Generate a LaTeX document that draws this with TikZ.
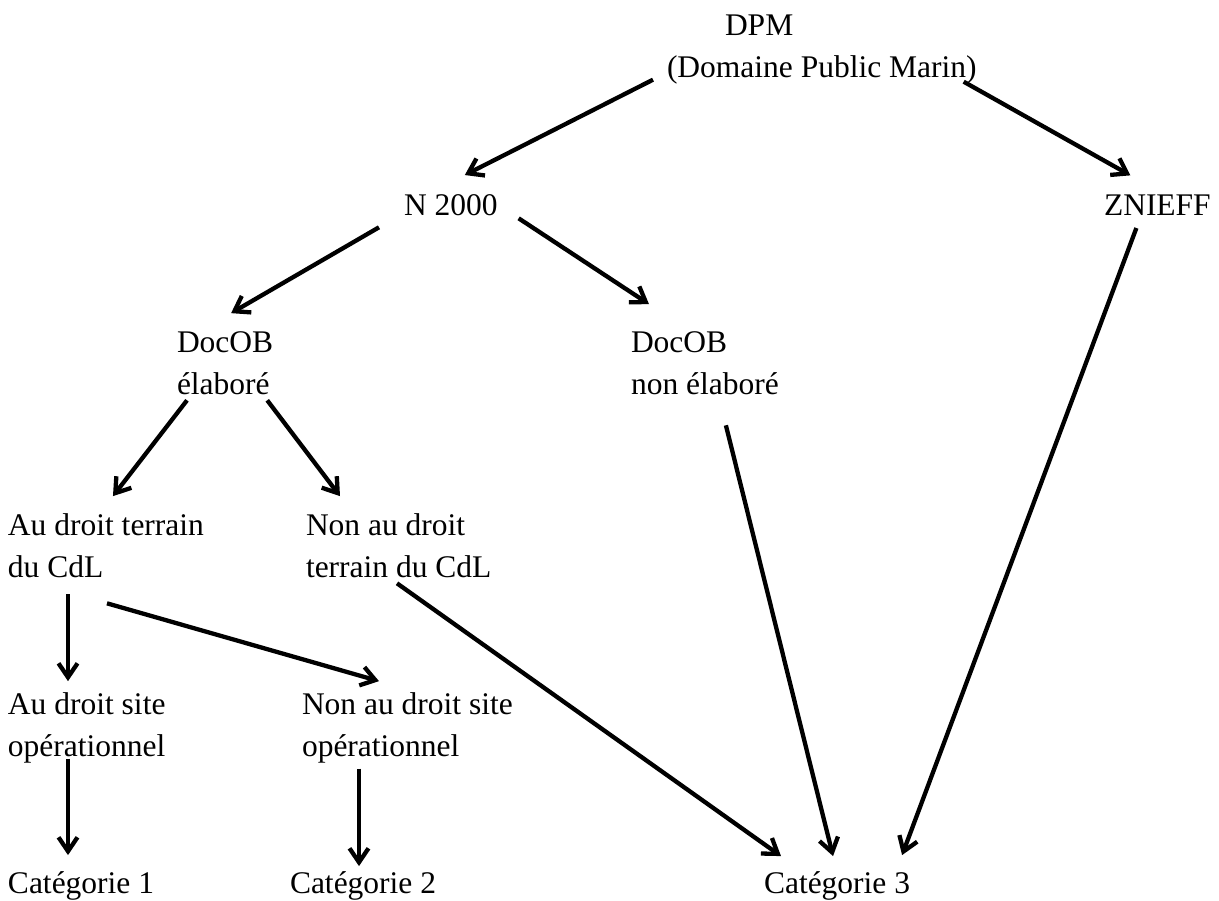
\documentclass[tikz,border=0pt]{standalone}
\usepackage{fontspec}
\setmainfont{Liberation Serif}
\usepackage{tikz}
\usetikzlibrary{arrows.meta}

\tikzset{
  lbl/.style={inner sep=0pt, outer sep=0pt, anchor=base west, align=left,
    font=\fontsize{31.5}{42}\selectfont},
  arr/.style={line width=4.3pt, -{Straight Barb[length=14pt,width=19pt]}}
}

\begin{document}
\begin{tikzpicture}[x=1pt, y=-1pt]
    \useasboundingbox (0,0) rectangle (1219,901);

    % --- Labels (left edge, baseline of last line) ---
    \node[lbl] (dpm) at (667,78) {\hspace*{58pt}DPM\\(Domaine Public Marin)};
    \node[lbl] (n2000) at (404,216) {N 2000};
    \node[lbl] (znieff) at (1104,216) {ZNIEFF};
    \node[lbl] (docA) at (177,395) {DocOB\\élaboré};
    \node[lbl] (docB) at (631,395) {DocOB\\non élaboré};
    \node[lbl] (terA) at (8,577) {Au droit terrain\\du CdL};
    \node[lbl] (terB) at (306,577) {Non au droit\\terrain du CdL};
    \node[lbl] (siteA) at (8,756) {Au droit site\\opérationnel};
    \node[lbl] (siteB) at (302,756) {Non au droit site\\opérationnel};
    \node[lbl] (cat1) at (8,893) {Catégorie 1};
    \node[lbl] (cat2) at (290,893) {Catégorie 2};
    \node[lbl] (cat3) at (764,893) {Catégorie 3};

    % --- Arrows ---
    \draw[arr] ([shift={(-14pt,5pt)}]dpm.south west) -- ([shift={(14pt,20pt)}]n2000.north);
    \draw[arr] ([shift={(-13pt,3pt)}]dpm.south east) -- ([shift={(-27pt,20pt)}]znieff.north);
    \draw[arr] ([shift={(-25pt,-11pt)}]n2000.south west) -- ([shift={(6pt,19pt)}]docA.north);
    \draw[arr] ([shift={(21pt,-2pt)}]n2000.south east) -- ([shift={(18pt,28pt)}]docB.north west);
    \draw[arr] ([shift={(10pt,-5pt)}]docA.south west) -- ([shift={(7pt,17pt)}]terA.north);
    \draw[arr] ([shift={(-6pt,-5pt)}]docA.south east) -- ([shift={(34pt,17pt)}]terB.north west);
    \draw[arr] ([shift={(21pt,-30pt)}]docB.south) -- ([shift={(-4pt,15pt)}]cat3.north);
    \draw[arr] ([shift={(-21pt,-12pt)}]znieff.south) -- ([shift={(-8pt,16pt)}]cat3.north east);
    \draw[arr] ([shift={(60pt,-17pt)}]terA.south west) -- ([shift={(60pt,11pt)}]siteA.north west);
    \draw[arr] ([shift={(99pt,-26pt)}]terA.south west) -- ([shift={(77pt,11pt)}]siteB.north west);
    \draw[arr] ([shift={(91pt,-6pt)}]terB.south west) -- ([shift={(17pt,15pt)}]cat3.north west);
    \draw[arr] ([shift={(60pt,4pt)}]siteA.south west) -- ([shift={(60pt,16pt)}]cat1.north west);
    \draw[arr] ([shift={(57pt,-6pt)}]siteB.south west) -- ([shift={(69pt,5pt)}]cat2.north west);

\end{tikzpicture}
\end{document}
